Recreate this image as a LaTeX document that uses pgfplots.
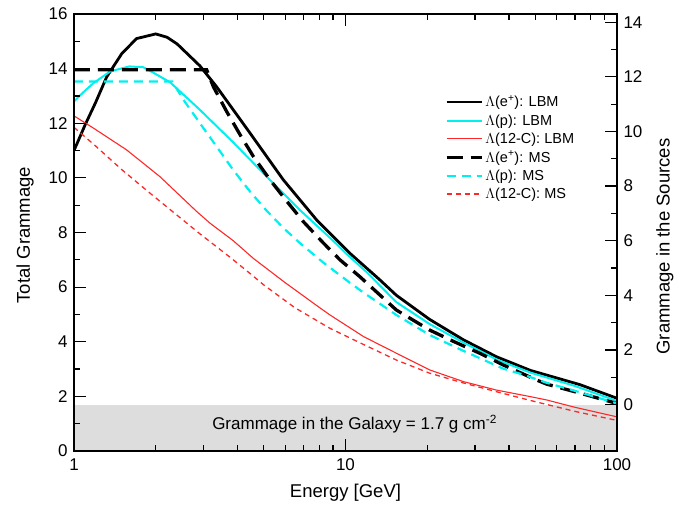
\documentclass[border=0pt]{standalone}
\usepackage{pgfplots}
\pgfplotsset{compat=1.18}
\usepackage{fontspec}
\setmainfont{Liberation Sans}
\definecolor{band}{RGB}{221,221,221}
\definecolor{mycyan}{RGB}{0,240,240}
\definecolor{myred}{RGB}{255,40,40}

\pgfplotstableread{
E v
1 11.0
1.1 11.95
1.2 12.75
1.32 13.7
1.5 14.55
1.7 15.1
2.0 15.27
2.2 15.15
2.4 14.9
2.91 14.1
3.35 13.34
4.45 11.64
5.9 9.93
7.83 8.46
10.38 7.24
13.4 6.26
15.4 5.7
20.4 4.82
27.2 4.07
36 3.45
48 2.95
73 2.43
100 1.93
}\eLBM

\pgfplotstableread{
E v
1 12.8
1.1 13.2
1.18 13.47
1.36 13.9
1.6 14.08
1.8 14.05
1.905 13.92
2.26 13.5
2.91 12.49
3.86 11.3
5.12 10.05
6.78 8.83
9.0 7.7
10 7.25
11.96 6.55
15.4 5.45
20.4 4.65
27.2 3.97
36 3.35
48 2.87
70 2.38
100 1.83
}\pLBM

\pgfplotstableread{
E v
1 12.27
1.18 11.82
1.56 11.03
2.07 10.05
2.83 8.77
3.17 8.34
3.86 7.7
4.58 7.05
6 6.16
8 5.26
8.77 4.98
11.65 4.19
15.4 3.58
20.4 2.97
27.2 2.54
36 2.23
48 1.99
55 1.87
70 1.6
100 1.25
}\cLBM

\pgfplotstableread{
E v
1 13.96
3.08 13.96
3.26 13.34
3.65 12.43
4.09 11.58
4.58 10.78
5.27 9.93
6.07 9.15
6.99 8.4
8.28 7.62
9.54 7.0
11.3 6.38
15.4 5.16
20.4 4.43
24.9 4.02
31.2 3.58
38.1 3.15
50 2.62
55 2.45
73 2.12
100 1.74
}\eMS

\pgfplotstableread{
E v
1 13.53
2.3 13.53
2.53 12.86
2.91 12.0
3.35 11.15
3.86 10.29
4.45 9.5
5.12 8.8
5.9 8.17
6.78 7.62
8.28 6.9
10.38 6.16
11.65 5.8
15.4 4.98
20.4 4.25
27 3.68
38 3.02
45 2.8
55 2.5
73 2.15
100 1.74
}\pMS

\pgfplotstableread{
E v
1 11.85
1.2 11.17
1.5 10.3
1.905 9.44
2.91 7.95
3.75 7.1
4.45 6.5
5 6.08
6.5 5.25
8.77 4.49
11.65 3.9
15.4 3.33
20.4 2.85
27.2 2.49
36 2.17
48 1.85
70 1.45
100 1.12
}\cMS

\begin{document}
\begin{tikzpicture}
\path[use as bounding box] (-74pt,-55pt) rectangle (623pt,451pt);
\begin{axis}[
  at={(0pt,0pt)}, anchor=south west,
  scale only axis, width=543pt, height=437pt,
  xmode=log, xmin=1, xmax=100, ymin=0, ymax=16,
  xtick={1,10,100}, xticklabels={1,10,100},
  ytick={0,2,...,16}, minor y tick num=1,
  ytick pos=left, xtick pos=both, xticklabel pos=lower,
  tick align=inside,
  major tick length=12pt, minor tick length=6pt,
  every tick/.style={black, line width=1.2pt},
  axis line style={line width=1.5pt},
  /pgf/number format/assume math mode=true,
  tick label style={font=\fontsize{17}{20}\selectfont},
  yticklabel style={xshift=-3pt},
  xticklabel style={yshift=-4pt},
  xlabel={Energy [GeV]}, ylabel={Total Grammage},
  label style={font=\fontsize{18.5}{22}\selectfont},
  xlabel style={at={(axis description cs:0.5,-0.096)}, anchor=center},
  ylabel style={at={(axis description cs:-0.0902,0.494)}, anchor=center},
  axis on top,
  legend style={draw=none, fill=none, at={(0.683,0.818)}, anchor=north west,
    font=\fontsize{14.5}{17}\selectfont, row sep=2.2pt, inner sep=0pt},
  legend cell align=left,
  legend image code/.code={\draw[#1] (0pt,0pt) -- (35pt,0pt);},
]
\addplot[fill=band, draw=none, forget plot] coordinates {(1,1.7) (100,1.7)} \closedcycle;
\addplot[black, line width=2.8pt] table[x=E,y=v] {\eLBM};
\addlegendentry{$\Lambda$(e\textsuperscript{+}): LBM}
\addplot[mycyan, line width=2pt] table[x=E,y=v] {\pLBM};
\addlegendentry{$\Lambda$(p): LBM}
\addplot[myred, line width=1.1pt] table[x=E,y=v] {\cLBM};
\addlegendentry{$\Lambda$(12-C): LBM}
\addplot[black, line width=3.3pt, dash pattern=on 16pt off 8pt] table[x=E,y=v] {\eMS};
\addlegendentry{$\Lambda$(e\textsuperscript{+}): MS}
\addplot[mycyan, line width=2.2pt, dash pattern=on 9pt off 6pt] table[x=E,y=v] {\pMS};
\addlegendentry{$\Lambda$(p): MS}
\addplot[myred, line width=1.3pt, dash pattern=on 5pt off 4pt] table[x=E,y=v] {\cMS};
\addlegendentry{$\Lambda$(12-C): MS}
\node[font=\fontsize{17}{20}\selectfont] at (axis cs:10.8,0.99) {Grammage in the Galaxy = 1.7 g cm\textsuperscript{-2}};
\end{axis}
\begin{axis}[
  at={(0pt,0pt)}, anchor=south west,
  scale only axis, width=543pt, height=437pt,
  xmode=log, xmin=1, xmax=100, ymin=-1.7, ymax=14.3,
  axis x line=none, axis y line*=right,
  ytick={0,2,...,14}, minor y tick num=1,
  tick align=inside,
  major tick length=12pt, minor tick length=6pt,
  every tick/.style={black, line width=1.2pt},
  axis line style={line width=1.5pt},
  /pgf/number format/assume math mode=true,
  tick label style={font=\fontsize{17}{20}\selectfont},
  yticklabel style={xshift=3pt},
  ylabel={Grammage in the Sources},
  label style={font=\fontsize{18.5}{22}\selectfont},
  ylabel style={at={(axis description cs:1.088,0.468)}, anchor=center},
]
\addplot[draw=none] coordinates {(1,0) (100,0)};
\end{axis}
\end{tikzpicture}
\end{document}
